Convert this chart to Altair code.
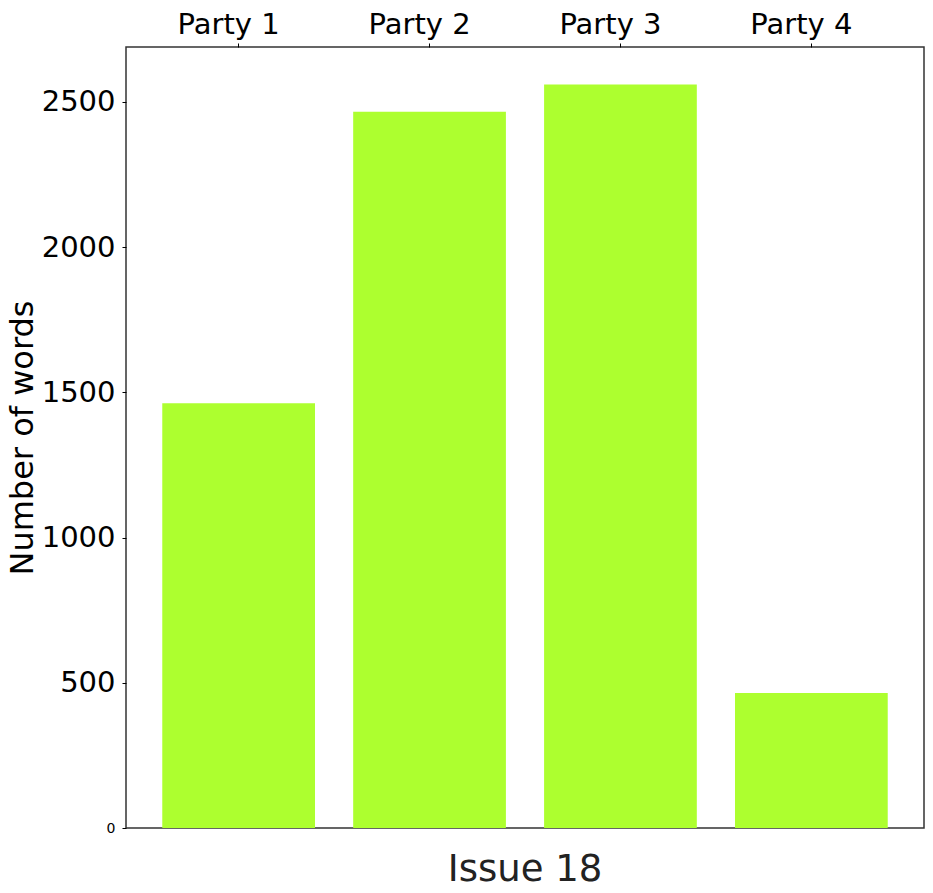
import altair as alt
import pandas as pd

parties = ["Party 1", "Party 2", "Party 3", "Party 4"]
words = [1462, 2466, 2560, 465]
y_ticks = [0, 500, 1000, 1500, 2000, 2500]

df = pd.DataFrame({"party": parties, "words": words})

FONT = "DejaVu Sans"

chart = (
    alt.Chart(df)
    .mark_bar(color="#adff2f")
    .encode(
        x=alt.X(
            "party:N",
            sort=parties,
            scale=alt.Scale(paddingInner=0.2, paddingOuter=0.19),
            axis=alt.Axis(
                orient="top",
                title=None,
                labelAngle=0,
                labelFontSize=29,
                labelFont=FONT,
                labelColor="black",
                labelPadding=4,
                labelOffset=-10,
                tickSize=4,
                tickColor="black",
                domain=False,
                grid=False,
            ),
        ),
        y=alt.Y(
            "words:Q",
            scale=alt.Scale(domain=[0, 2689], nice=False),
            axis=alt.Axis(
                values=y_ticks,
                format="d",
                title="Number of words",
                titleFontSize=32,
                titleFont=FONT,
                titleFontWeight="normal",
                titleColor="black",
                titlePadding=2,
                labelFontSize={"condition": {"test": "datum.value == 0", "value": 14}, "value": 29},
                labelFont=FONT,
                labelColor="black",
                labelPadding=7,
                tickSize=4,
                tickColor="black",
                domain=False,
                grid=False,
            ),
        ),
    )
    .properties(
        width=798,
        height=781,
        title=alt.TitleParams(
            "Issue 18",
            orient="bottom",
            fontSize=37,
            font=FONT,
            fontWeight="normal",
            color="#222",
            offset=17,
            anchor="middle",
        ),
        autosize=alt.AutoSizeParams(type="none"),
        padding={"left": 118, "top": 39, "right": 1, "bottom": 56},
    )
    .configure_view(stroke="#333", strokeWidth=1.5)
)

chart.save("out.html", embed_options={"renderer": "svg", "actions": False})
